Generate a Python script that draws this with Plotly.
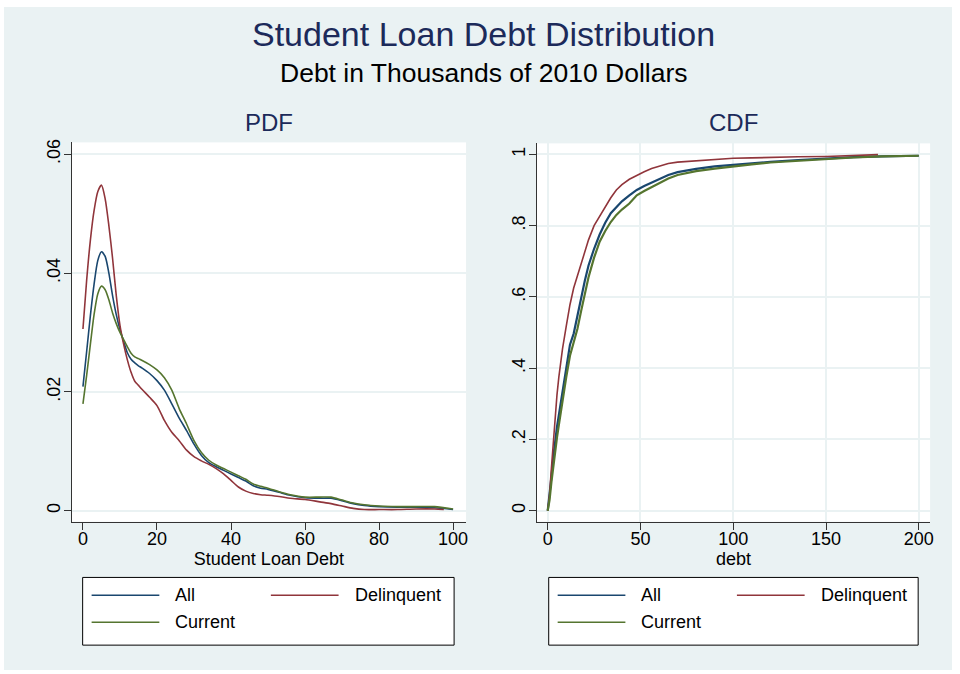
import plotly.graph_objects as go

# Kernel density of student loan debt (thousands of 2010 dollars)
pdf_x = [0, 1, 2, 3, 4, 5, 6, 7, 8, 9, 10, 11, 12, 13, 14, 15, 16, 18, 20, 22, 24, 26,
         28, 30, 32, 34, 36, 38, 40, 42, 44, 46, 48, 50, 53, 56, 60, 64, 67, 70, 73, 76,
         80, 85, 90, 95, 100]
pdf_x_delinquent = pdf_x[:-1] + [97.5]
pdf_all = [0.0209, 0.0268, 0.0328, 0.0381, 0.0421, 0.0436, 0.0428, 0.0400, 0.0362, 0.0330,
           0.0305, 0.0285, 0.0266, 0.0255, 0.0249, 0.0244, 0.0240, 0.0231, 0.0219, 0.0203,
           0.0180, 0.0156, 0.0135, 0.0112, 0.0093, 0.0081, 0.0074, 0.0068, 0.0062, 0.0056,
           0.0050, 0.0042, 0.0038, 0.0036, 0.0031, 0.0026, 0.0022, 0.0021, 0.0021, 0.0017,
           0.0012, 0.0009, 0.0007, 0.0006, 0.0006, 0.0005, 0.0002]
pdf_delinquent = [0.0306, 0.0388, 0.0455, 0.0505, 0.0537, 0.0548, 0.0525, 0.0480, 0.0425,
                  0.0362, 0.0312, 0.0280, 0.0254, 0.0233, 0.0218, 0.0211, 0.0204, 0.0191,
                  0.0177, 0.0152, 0.0132, 0.0118, 0.0102, 0.0091, 0.0084, 0.0078, 0.0071,
                  0.0062, 0.0051, 0.0040, 0.0033, 0.0029, 0.0027, 0.0026, 0.0024, 0.0021,
                  0.0019, 0.0015, 0.0012, 0.0008, 0.0004, 0.0002, 0.0002, 0.0002, 0.0003,
                  0.0003, 0.0002]
pdf_current = [0.0180, 0.0228, 0.0280, 0.0330, 0.0365, 0.0378, 0.0372, 0.0355, 0.0333,
               0.0315, 0.0300, 0.0288, 0.0276, 0.0265, 0.0259, 0.0256, 0.0253, 0.0246,
               0.0237, 0.0224, 0.0203, 0.0172, 0.0146, 0.0118, 0.0098, 0.0085, 0.0077,
               0.0071, 0.0065, 0.0059, 0.0053, 0.0045, 0.0041, 0.0038, 0.0032, 0.0027,
               0.0023, 0.0023, 0.0023, 0.0018, 0.0013, 0.0010, 0.0008, 0.0007, 0.0007,
               0.0007, 0.0003]

# Empirical cumulative distribution
cdf_x = [0, 1, 2, 3, 4, 5, 6, 7, 8, 10, 12, 14, 16, 18, 20, 22, 25, 28, 31, 34, 37, 40,
         44, 48, 52, 56, 60, 65, 70, 75, 80, 90, 100, 110, 120, 135, 150, 165, 180, 200]
cdf_x_delinquent = cdf_x[:-2] + [178]
cdf_all = [0, 0.040, 0.095, 0.150, 0.200, 0.235, 0.268, 0.300, 0.330, 0.400, 0.466, 0.497,
           0.548, 0.600, 0.645, 0.688, 0.735, 0.775, 0.808, 0.835, 0.853, 0.868, 0.885,
           0.900, 0.911, 0.921, 0.930, 0.942, 0.950, 0.955, 0.959, 0.966, 0.971, 0.975,
           0.979, 0.984, 0.989, 0.992, 0.994, 0.996]
cdf_delinquent = [0, 0.045, 0.120, 0.196, 0.265, 0.325, 0.375, 0.420, 0.455, 0.518, 0.578,
                  0.625, 0.660, 0.695, 0.730, 0.760, 0.800, 0.826, 0.855, 0.878, 0.900,
                  0.915, 0.930, 0.941, 0.951, 0.960, 0.967, 0.974, 0.978, 0.980, 0.982,
                  0.986, 0.989, 0.990, 0.992, 0.993, 0.994, 0.996, 0.999]
cdf_current = [0, 0.030, 0.080, 0.125, 0.165, 0.205, 0.240, 0.275, 0.305, 0.375, 0.435,
               0.470, 0.510, 0.560, 0.610, 0.655, 0.710, 0.755, 0.785, 0.810, 0.830, 0.845,
               0.862, 0.885, 0.897, 0.908, 0.918, 0.932, 0.942, 0.948, 0.953, 0.960, 0.967,
               0.972, 0.977, 0.982, 0.988, 0.991, 0.994, 0.996]

series_names = ["All", "Delinquent", "Current"]
pdf_ticks = [0, 0.02, 0.04, 0.06]
pdf_ticktext = ["0", ".02", ".04", ".06"]
cdf_ticks = [0, 0.2, 0.4, 0.6, 0.8, 1]
cdf_ticktext = ["0", ".2", ".4", ".6", ".8", "1"]

W, H = 960, 674
NAVY, MAROON, GREEN = "#1a476f", "#90353b", "#55752f"
BG = "#eaf2f3"
FONT = "Liberation Sans"
TITLE_COLOR = "#1c2a5a"


def px(x):
    return x / W


def py(y):
    return 1 - y / H


fig = go.Figure()

pdf_sets = [(pdf_x, pdf_all, NAVY), (pdf_x_delinquent, pdf_delinquent, MAROON),
            (pdf_x, pdf_current, GREEN)]
for name, (xs, ys, col) in zip(series_names, pdf_sets):
    fig.add_trace(go.Scatter(x=xs, y=ys, mode="lines", name=name, showlegend=False,
                             line=dict(color=col, width=1.6, shape="spline", smoothing=0.7),
                             xaxis="x", yaxis="y"))

cdf_sets = [(cdf_x, cdf_all, NAVY, 2.2), (cdf_x_delinquent, cdf_delinquent, MAROON, 1.6),
            (cdf_x, cdf_current, GREEN, 2.2)]
for name, (xs, ys, col, w) in zip(series_names, cdf_sets):
    fig.add_trace(go.Scatter(x=xs, y=ys, mode="lines", name=name, showlegend=False,
                             line=dict(color=col, width=w), xaxis="x2", yaxis="y2"))

axis_common = dict(showline=True, linecolor="#333333", linewidth=1, ticks="outside",
                   ticklen=7, tickcolor="#333333", tickwidth=1, zeroline=False,
                   tickfont=dict(family=FONT, size=18, color="black"),
                   gridcolor=BG, gridwidth=1.5)

fig.update_layout(
    width=W, height=H,
    margin=dict(l=0, r=0, t=0, b=0),
    paper_bgcolor=BG, plot_bgcolor="white",
    font=dict(family=FONT, color="black"),
    xaxis=dict(domain=[px(72), px(468)], range=[-3.04, 103.5], tickvals=[0, 20, 40, 60, 80, 100],
               showgrid=False, anchor="y", ticklabelstandoff=-6,
               title=dict(text="Student Loan Debt", font=dict(size=18), standoff=3),
               **axis_common),
    yaxis=dict(domain=[py(521), py(140)], range=[-0.00184, 0.062], tickvals=pdf_ticks,
               ticktext=pdf_ticktext, tickangle=-90, showgrid=True, anchor="x",
               ticklabelstandoff=-3, **axis_common),
    xaxis2=dict(domain=[px(539), px(934)], range=[-5.9, 206.1], tickvals=[0, 50, 100, 150, 200],
                showgrid=True, anchor="y2", ticklabelstandoff=-6,
                title=dict(text="debt", font=dict(size=18), standoff=3),
                **axis_common),
    yaxis2=dict(domain=[py(521), py(141)], range=[-0.0307, 1.0307], tickvals=cdf_ticks,
                ticktext=cdf_ticktext, tickangle=-90, showgrid=True, anchor="x2",
                ticklabelstandoff=-3, **axis_common),
)

annotations = [
    dict(text="Student Loan Debt Distribution", x=px(486), y=py(31),
         font=dict(size=34, color=TITLE_COLOR)),
    dict(text="Debt in Thousands of 2010 Dollars", x=px(486), y=py(70),
         font=dict(size=26.5, color="black")),
    dict(text="PDF", x=px(270), y=py(120), font=dict(size=24, color=TITLE_COLOR)),
    dict(text="CDF", x=px(737), y=py(120), font=dict(size=24, color=TITLE_COLOR)),
]
shapes = [
    # thin white frame around the whole graph
    dict(type="rect", xref="paper", yref="paper", x0=0, x1=1, y0=0, y1=1,
         line=dict(color="white", width=8), fillcolor="rgba(0,0,0,0)", layer="above"),
]

# legend boxes under each panel
legend_boxes = [(83, 456), (551, 922)]
row_y = [595, 622]
for (bx0, bx1) in legend_boxes:
    shapes.append(dict(type="rect", xref="paper", yref="paper", x0=px(bx0), x1=px(bx1),
                       y0=py(645), y1=py(577), fillcolor="white",
                       line=dict(color="black", width=1), layer="below"))
    key_slots = [(bx0 + 9, row_y[0], NAVY, "All"),
                 (bx0 + 189, row_y[0], MAROON, "Delinquent"),
                 (bx0 + 9, row_y[1], GREEN, "Current")]
    for kx, ky, col, label in key_slots:
        shapes.append(dict(type="line", xref="paper", yref="paper", x0=px(kx), x1=px(kx + 68),
                           y0=py(ky), y1=py(ky), line=dict(color=col, width=1.5)))
        annotations.append(dict(text=label, x=px(kx + 82), y=py(ky), xanchor="left",
                                font=dict(size=18, color="black")))

for a in annotations:
    a.setdefault("xref", "paper")
    a.setdefault("yref", "paper")
    a.setdefault("showarrow", False)
    a.setdefault("xanchor", "center")
    a.setdefault("yanchor", "middle")
    a["font"].setdefault("family", FONT)

fig.update_layout(annotations=annotations, shapes=shapes)
fig.write_html("out.html")
